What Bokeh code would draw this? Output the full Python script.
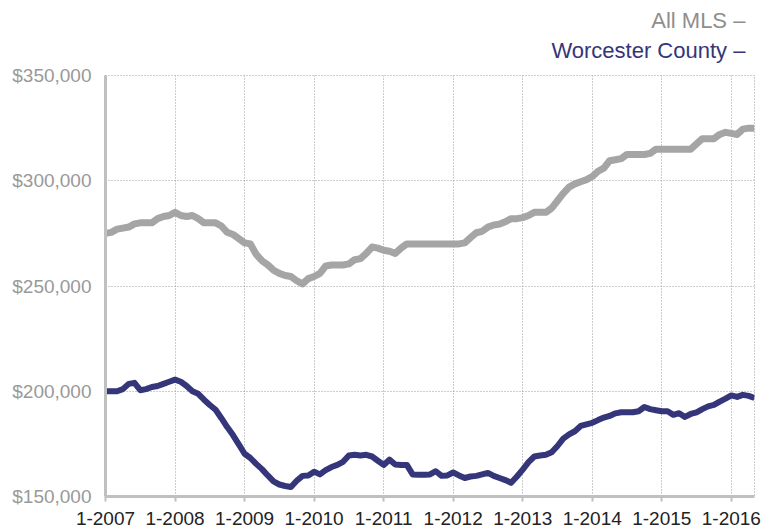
from bokeh.plotting import figure
from bokeh.models import Range1d, FixedTicker, NumeralTickFormatter, Title
from bokeh.embed import file_html
from bokeh.resources import INLINE

tick_labels = ["1-2007", "1-2008", "1-2009", "1-2010", "1-2011",
               "1-2012", "1-2013", "1-2014", "1-2015", "1-2016"]

all_mls = [
    275, 275.5, 277, 277.5, 278, 279.5, 280, 280, 280, 282, 283, 283.5,
    285, 283.5, 283, 283.5, 282, 280, 280, 280, 278.5, 275.5, 274.5, 272.5,
    270.5, 270, 265, 262, 260, 257.5, 256, 255, 254.5, 252.5, 251, 253.5,
    254.5, 256, 259.5, 260, 260, 260, 260.5, 262.5, 263, 265.5, 268.5, 268,
    267, 266.5, 265.5, 268, 270, 270, 270, 270, 270, 270, 270, 270,
    270, 270, 270.5, 273, 275.3, 276, 278, 279, 279.4, 280.5, 282, 282,
    282.5, 283.5, 285, 285, 285, 287, 290.5, 294, 297, 298.5, 299.5, 300.5,
    302, 304.5, 306, 309.5, 310, 310.5, 312.5, 312.5, 312.5, 312.5, 313, 315,
    315, 315, 315, 315, 315, 315, 317.5, 320, 320, 320, 322, 323,
    322.5, 322, 324.5, 325, 325,
]

worcester = [
    200, 200, 200, 201, 203.5, 204, 200.5, 201, 202, 202.5, 203.5, 204.5,
    205.5, 204.5, 202.5, 200, 198.8, 196, 193.5, 191.2, 187.2, 183, 179.2, 174.8,
    170.3, 168.3, 165.5, 163, 160, 157.2, 155.7, 155, 154.5, 157.5, 159.8, 160,
    161.8, 160.5, 162.5, 164, 165, 166.5, 169.5, 169.8, 169.5, 169.8, 169, 167,
    165, 167.5, 165.2, 165, 165, 160.5, 160.3, 160.3, 160.5, 162, 159.8, 160,
    161.4, 160, 158.8, 159.5, 159.8, 160.5, 161.2, 159.8, 158.8, 157.8, 156.5, 159.5,
    162.8, 166.3, 169, 169.5, 169.8, 171, 174, 177.5, 179.5, 181, 183.5, 184.3,
    185, 186.3, 187.5, 188.3, 189.5, 190, 190, 190, 190.5, 192.5, 191.5, 191,
    190.5, 190.5, 188.8, 189.6, 187.8, 189.2, 190, 191.5, 192.8, 193.5, 195.1, 196.5,
    198, 197.3, 198.3, 197.8, 196.8,
]

series_names = ["All MLS", "Worcester County"]

months = list(range(len(all_mls)))
all_vals = [v * 1000 for v in all_mls]
wor_vals = [v * 1000 for v in worcester]

GRAY = "#a5a5a5"
NAVY = "#35357a"
AXIS = "#c0c0c0"
FONT = "Liberation Sans"

p = figure(width=768, height=527, output_backend="svg", toolbar_location=None,
           x_range=Range1d(0, len(months) - 1), y_range=Range1d(150000, 350000),
           min_border_left=105, min_border_right=14, min_border_top=75,
           min_border_bottom=30)
p.title = None

p.line(months, all_vals, line_color=GRAY, line_width=7, line_join="round")
p.line(months, wor_vals, line_color=NAVY, line_width=6, line_join="round")

# axes
p.xaxis.ticker = FixedTicker(ticks=[12 * i for i in range(len(tick_labels))])
p.xaxis.major_label_overrides = {12 * i: lab for i, lab in enumerate(tick_labels)}
p.xaxis.minor_tick_line_color = None
p.xaxis.major_tick_in = 0
p.xaxis.major_tick_out = 5
p.xaxis.major_tick_line_color = AXIS
p.xaxis.major_tick_line_width = 2
p.xaxis.axis_line_color = AXIS
p.xaxis.axis_line_width = 3
p.xaxis.major_label_text_font = FONT
p.xaxis.major_label_text_font_size = "19px"
p.xaxis.major_label_text_color = "#222222"
p.xaxis.major_label_standoff = 10

p.yaxis.ticker = FixedTicker(ticks=[150000, 200000, 250000, 300000, 350000])
p.yaxis.formatter = NumeralTickFormatter(format="$0,0")
p.yaxis.minor_tick_line_color = None
p.yaxis.major_tick_in = 0
p.yaxis.major_tick_out = 0
p.yaxis.axis_line_color = AXIS
p.yaxis.axis_line_width = 3
p.yaxis.major_label_text_font = FONT
p.yaxis.major_label_text_font_size = "19px"
p.yaxis.major_label_text_color = "#999999"
p.yaxis.major_label_standoff = 14

# grid
for g in (p.xgrid, p.ygrid):
    g.grid_line_color = "#9a9a9a"
    g.grid_line_dash = "1 2"
    g.grid_line_width = 1
p.outline_line_color = "#9a9a9a"
p.outline_line_dash = "1 2"
p.outline_line_width = 1

# legend as right-aligned coloured titles (a small blank title adds spacing)
t_gap = Title(text=" ", align="right", text_font=FONT, text_font_size="4px",
              standoff=0, offset=3)
t_wor = Title(text=series_names[1] + "  \u2013", align="right", text_color=NAVY,
              text_font=FONT, text_font_size="22px", text_font_style="normal",
              offset=3, standoff=11)
t_all = Title(text=series_names[0] + "  \u2013", align="right", text_color="#8e8e8e",
              text_font=FONT, text_font_size="22px", text_font_style="normal",
              offset=3, standoff=-4)
p.add_layout(t_gap, "above")
p.add_layout(t_wor, "above")
p.add_layout(t_all, "above")

open("out.html", "w").write(file_html(p, INLINE))
